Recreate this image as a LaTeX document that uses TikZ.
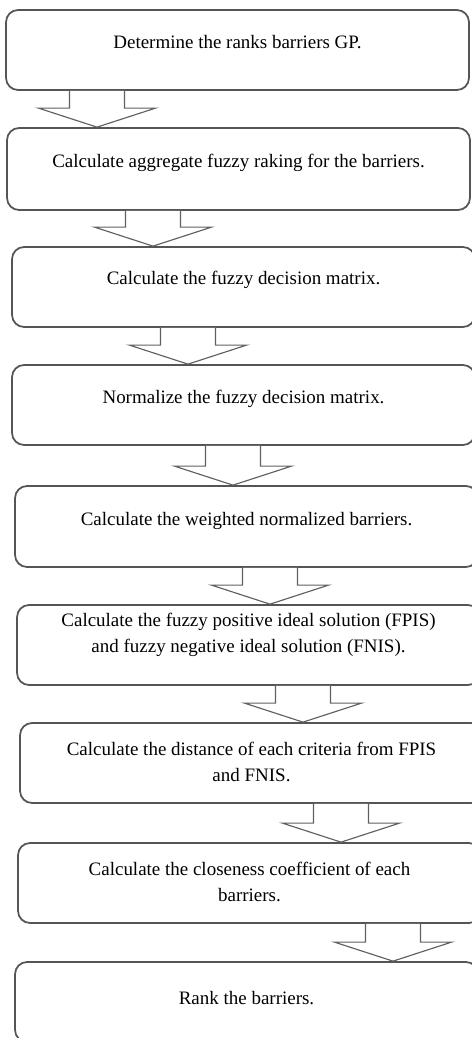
\documentclass[tikz,border=0pt]{standalone}
\usepackage{fontspec}
\setmainfont{Liberation Serif}
\usepackage{xcolor}
\usetikzlibrary{calc}

\definecolor{boxline}{HTML}{555555}
\definecolor{arrowline}{HTML}{606060}

\tikzset{
	stepbox/.style={draw=boxline,line width=1pt,rounded corners=0.24cm,
		minimum width=9.26cm,minimum height=1.6cm,inner sep=0pt},
	steptext/.style={align=center,font=\fontsize{10.8}{14.8}\selectfont,inner sep=0pt},
	fatarrow/.style={draw=arrowline,fill=white,line width=0.65pt,line join=miter}
}

\begin{document}
\begin{tikzpicture}[x=0.02cm,y=-0.02cm]
	\useasboundingbox (0,0) rectangle (472,1038);
	\clip (0,0) rectangle (472,1038);
	% 绘制步骤框
	\node[stepbox,label={[steptext,yshift=0.16cm]center:Determine the ranks barriers GP.}] (b1) at (237.5,50) {};
	\node[stepbox,minimum height=1.64cm,label={[steptext,yshift=0.12cm]center:Calculate aggregate fuzzy raking for the barriers.}] (b2) at (238.5,169) {};
	\node[stepbox,label={[steptext,yshift=0.14cm]center:Calculate the fuzzy decision matrix.}] (b3) at (243.5,287) {};
	\node[stepbox,label={[steptext,yshift=0.12cm]center:Normalize the fuzzy decision matrix.}] (b4) at (243.5,405) {};
	\node[stepbox,minimum height=1.62cm,label={[steptext,yshift=0.12cm]center:Calculate the weighted normalized barriers.}] (b5) at (246.5,526.5) {};
	\node[stepbox,label={[steptext,yshift=0.2cm]center:Calculate the fuzzy positive ideal solution (FPIS)\\and fuzzy negative ideal solution (FNIS).}] (b6) at (248.5,645) {};
	\node[stepbox,label={[steptext,yshift=0.03cm]center:Calculate the distance of each criteria from FPIS\\and FNIS.}] (b7) at (251.5,763) {};
	\node[stepbox,label={[steptext,yshift=0.02cm]center:Calculate the closeness coefficient of each\\barriers.}] (b8) at (249.5,883) {};
	\node[stepbox,label={[steptext,yshift=0.08cm]center:Rank the barriers.}] (b9) at (246.5,1002) {};
	% 绘制空心箭头
	\foreach \a/\b/\t in {b1/b2/97,b2/b3/153,b3/b4/188,b4/b5/233,b5/b6/270,b6/b7/303,b7/b8/341,b8/b9/393}
	\path[fatarrow] ({\t-27.5},0 |- \a.south) -- ($({\t},0 |- \b.north)+(-27.5,-19)$) -- ++(-31,0)
		-- ({\t},0 |- \b.north) -- ++(58.5,-19) -- ++(-31,0) -- ({\t+27.5},0 |- \a.south);
\end{tikzpicture}
\end{document}
